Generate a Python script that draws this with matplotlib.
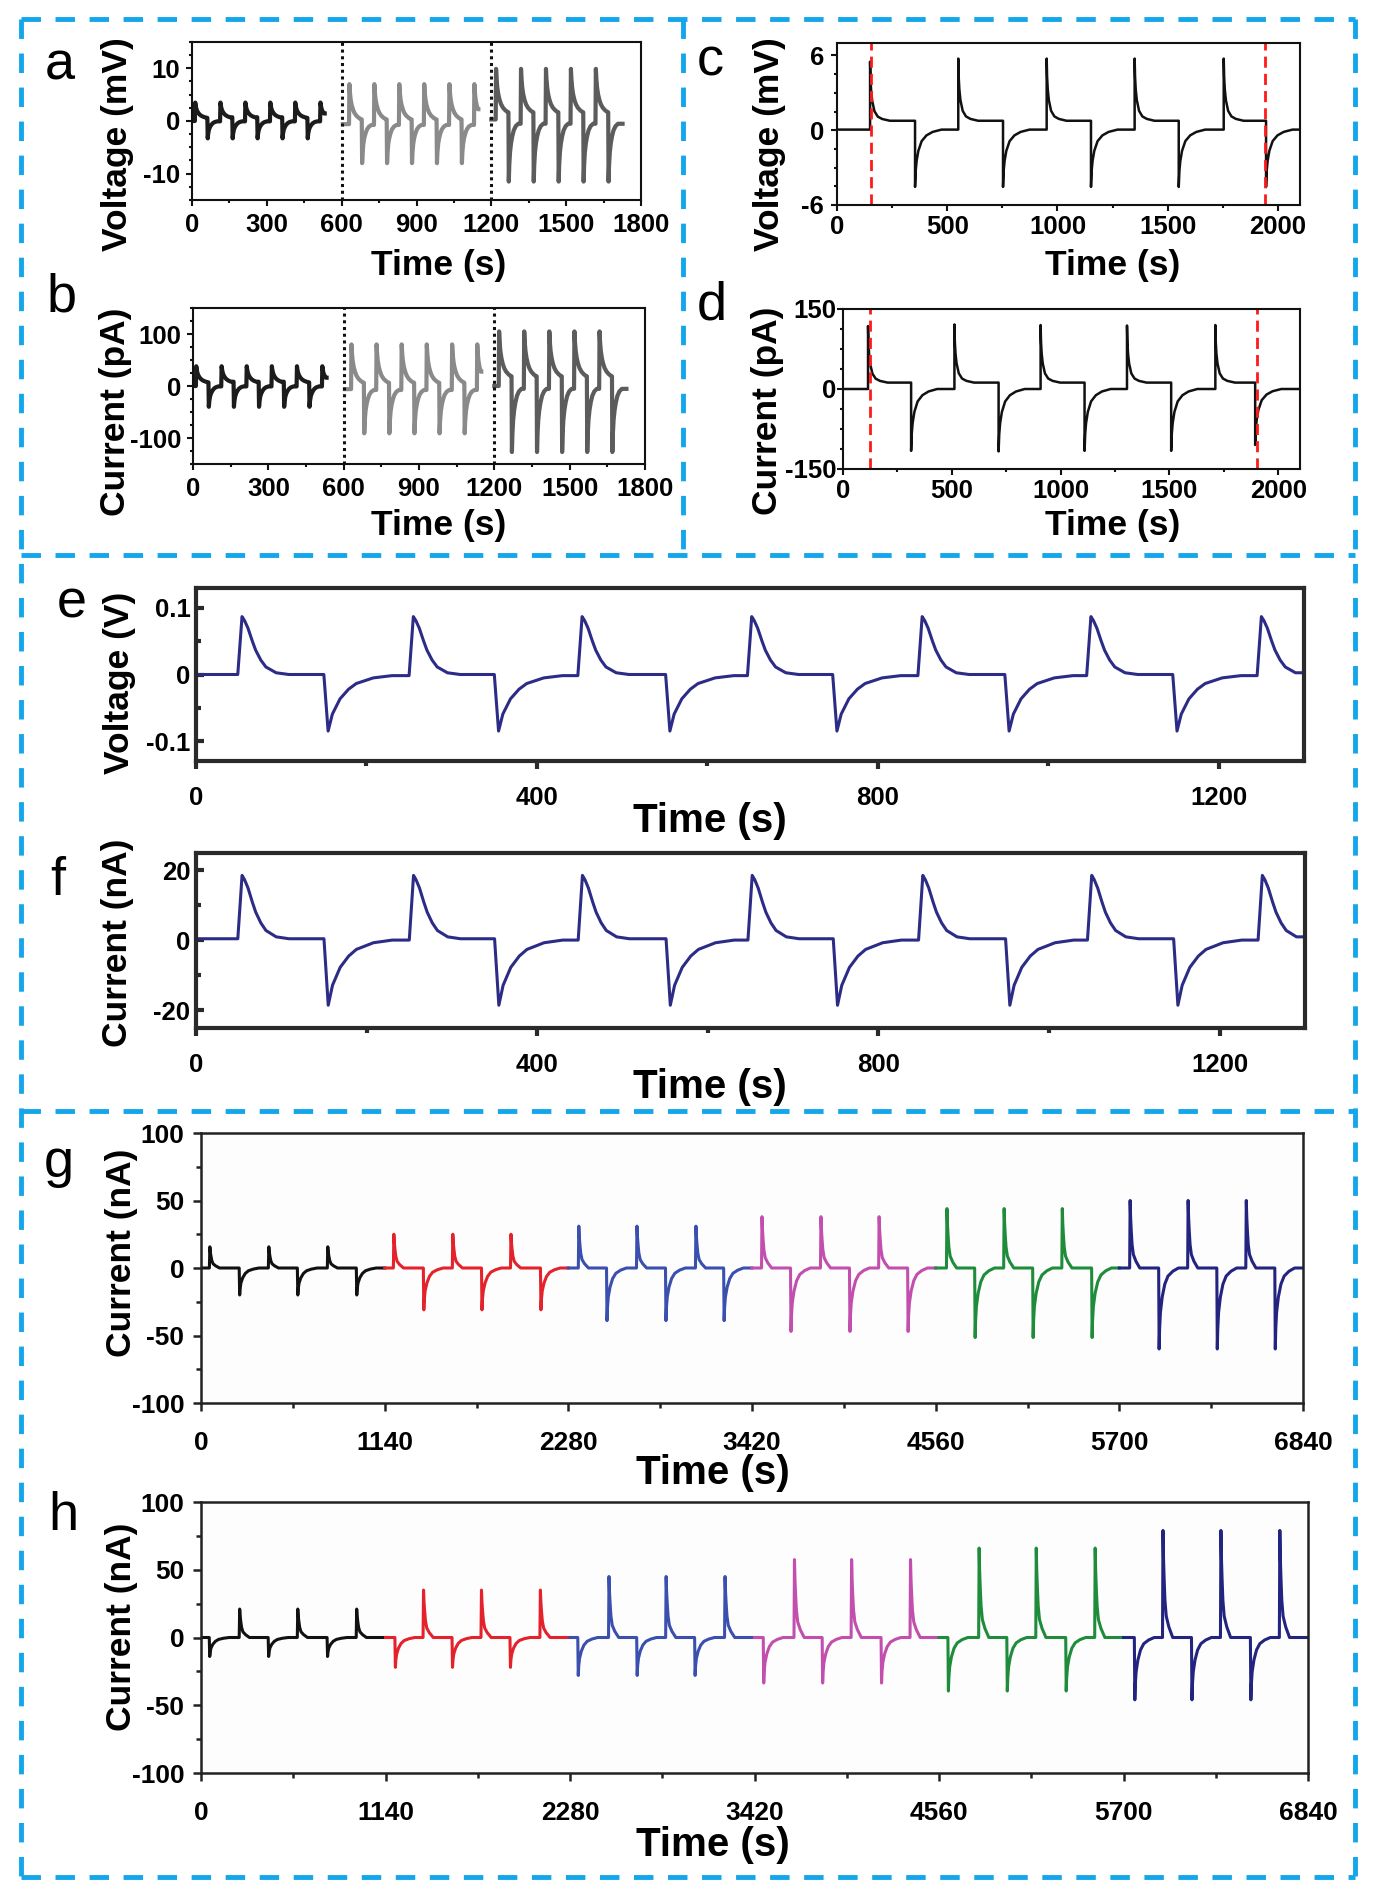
import numpy as np
import matplotlib
matplotlib.use('Agg')
import matplotlib.pyplot as plt
from matplotlib.ticker import MultipleLocator, FuncFormatter

plt.rcParams['font.family'] = ['Liberation Sans', 'DejaVu Sans']
plt.rcParams['font.weight'] = 'bold'
plt.rcParams['axes.unicode_minus'] = False

W, H = 1380, 1894

# ---------------- data ----------------
# a / b : three runs, each a train of +/- steps (times in s)
AB_SEG = [(0, 532), (605, 1148), (1200, 1726)]
AB_POS_T = [[13, 114, 214, 314, 414, 515],
            [631, 731, 831, 931, 1032, 1132],
            [1219, 1319, 1419, 1519, 1619]]
AB_NEG_T = [[63, 163, 263, 363, 464],
            [682, 782, 882, 982, 1082],
            [1270, 1370, 1470, 1570, 1670]]
AB_COLORS = ['#1c1c1c', '#8a8a8a', '#5c5c5c']

A_POS_PEAK = [3.5, 7.0, 9.9]
A_NEG_PEAK = [-3.3, -8.0, -11.5]
A_POS_LVL = [0.5, 0.1, 1.4]
A_NEG_LVL = [0.0, -0.6, -0.3]
A_START = [0.0, -0.6, 0.3]

B_POS_PEAK = [38, 80, 105]
B_NEG_PEAK = [-40, -91, -127]
B_POS_LVL = [6, 4, 16]
B_NEG_LVL = [0, -6, -3]
B_START = [0, -6, 0]

# c / d
C_POS_T = [150, 550, 951, 1350, 1754]
C_NEG_T = [354, 753, 1152, 1550, 1946]
C_POS_PEAK = [5.5, 5.75, 5.75, 5.75, 5.75]
C_NEG_PEAK = [-4.55, -4.55, -4.55, -4.55, -4.55]
C_POS_LVL, C_NEG_LVL = 0.76, 0.05
C_RED = [153, 1942]

D_POS_T = [115, 512, 908, 1305, 1711]
D_NEG_T = [313, 715, 1110, 1508, 1894]
D_POS_PEAK = [118, 121, 120, 119, 120]
D_NEG_PEAK = [-116, -117, -116, -116, -105]
D_POS_LVL, D_NEG_LVL = 12, 0
D_RED = [122, 1902]

# e / f
EF_POS_T = [54, 255, 453, 652, 852, 1050, 1250]
EF_NEG_T = [155, 355, 556, 752, 954, 1151]
E_PEAK = (0.087, -0.085)
F_PEAK = (18.6, -18.5)
F_BASE = 0.5
EF_COLOR = '#2c2c86'

# g / h : six runs of 1140 s each
GH_COLORS = ['#111111', '#e4222b', '#3a4fae', '#c24fae', '#1f8c3b', '#232480']
GH_SEG = [(0, 1140), (1140, 2280), (2280, 3420), (3420, 4560), (4560, 5700), (5700, 6840)]
G_POS_T = [[55, 421, 787], [1197, 1563, 1924], [2345, 2706, 3072],
           [3482, 3848, 4209], [4630, 4985, 5346], [5767, 6127, 6488]]
G_NEG_T = [[240, 601, 967], [1383, 1744, 2110], [2520, 2886, 3247],
           [3662, 4028, 4389], [4805, 5165, 5531], [5947, 6308, 6668]]
G_POS_PEAK = [15.7, 25, 31, 38, 44, 50]
G_NEG_PEAK = [-20, -31, -39, -47, -51.5, -60]

H_NEG_T = [[54, 418, 782], [1201, 1554, 1912], [2331, 2695, 3053],
           [3477, 3841, 4205], [4618, 4982, 5346], [5770, 6123, 6487]]
H_POS_T = [[239, 598, 962], [1375, 1733, 2097], [2521, 2874, 3238],
           [3667, 4020, 4384], [4808, 5161, 5525], [5944, 6302, 6666]]
H_POS_PEAK = [21, 35, 45, 57.5, 66, 79]
H_NEG_PEAK = [-14, -22, -28, -33.6, -39.5, -46]

# decay shapes: seconds after the step, fraction of step left
AB_SHAPE = {'p': ([0, 2, 5, 9, 14, 20, 28, 38, 48], [1, .78, .58, .43, .31, .21, .13, .07, .03]),
            'n': ([0, 2, 5, 9, 14, 20, 28, 38], [1, .72, .5, .35, .23, .13, .06, .02])}
CD_SHAPE = {'p': ([0, 2, 5, 10, 20, 35, 55, 90], [1, .7, .5, .33, .16, .07, .03, 0]),
            'n': ([0, 3, 7, 15, 30, 52, 80, 120], [1, .72, .55, .37, .2, .1, .04, 0])}
EF_SHAPE = {'p': ([0, 3, 7, 12, 16, 22, 28, 40, 55], [1, .93, .8, .58, .42, .25, .13, .03, 0]),
            'n': ([0, 5, 14, 24, 33, 53, 75, 100], [1, .7, .43, .26, .16, .06, .02, 0])}
GH_SHAPE = {'p': ([0, 3, 7, 12, 20, 36, 60], [1, .75, .55, .35, .2, .1, 0]),
            'n': ([0, 3, 8, 19, 35, 55, 85, 120], [1, .75, .55, .36, .2, .1, .04, 0])}


def events(pos_t, neg_t, pos_peak, neg_peak, pos_lvl, neg_lvl):
    pp = np.broadcast_to(pos_peak, (len(pos_t),))
    nn = np.broadcast_to(neg_peak, (len(neg_t),))
    ev = [(t, p, pos_lvl, 'p') for t, p in zip(pos_t, pp)]
    ev += [(t, p, neg_lvl, 'n') for t, p in zip(neg_t, nn)]
    return sorted(ev)


def trace(t0, t1, y0, ev, shape, rise=0.0):
    xs, ys = [t0], [y0]
    for i, (t, peak, lvl, kind) in enumerate(ev):
        stop = ev[i + 1][0] - rise if i + 1 < len(ev) else t1
        xs.append(t - rise)
        ys.append(ys[-1])
        for dt, fr in zip(*shape[kind]):
            if t + dt > stop:
                break
            xs.append(t + dt)
            ys.append(lvl + (peak - lvl) * fr)
    xs.append(t1)
    ys.append(ys[-1])
    return xs, ys


fmt = FuncFormatter(lambda v, p: f'{(0 if abs(v) < 1e-9 else round(v, 6)):g}')


def px_axes(l, t, r, b):
    return fig.add_axes([l / W, 1 - b / H, (r - l) / W, (b - t) / H])


def style(ax, xlim, ylim, xmaj, xmin, ymaj, ymin, ydir='out', frame=1.5,
          tsize=18, xpad=4, ypad=4, color='#111111', tlen=4.5):
    ax.set_xlim(*xlim)
    ax.set_ylim(*ylim)
    ax.xaxis.set_major_locator(MultipleLocator(xmaj))
    ax.xaxis.set_minor_locator(MultipleLocator(xmin))
    ax.yaxis.set_major_locator(MultipleLocator(ymaj))
    ax.yaxis.set_minor_locator(MultipleLocator(ymin))
    ax.xaxis.set_major_formatter(fmt)
    ax.yaxis.set_major_formatter(fmt)
    for s in ax.spines.values():
        s.set_linewidth(frame)
        s.set_color(color)
    ax.tick_params(which='both', top=False, right=False, width=frame, color=color)
    ax.tick_params(axis='x', which='both', direction='out', pad=xpad, labelsize=tsize)
    ax.tick_params(axis='y', which='both', direction=ydir, pad=ypad, labelsize=tsize)
    ax.tick_params(which='major', length=tlen)
    ax.tick_params(which='minor', length=tlen * 0.55)


def ftext(x, y, s, size, rot=0, weight='bold', ha='center', va='center'):
    fig.text(x / W, 1 - y / H, s, fontsize=size, rotation=rot, fontweight=weight,
             ha=ha, va=va)


fig = plt.figure(figsize=(W / 100, H / 100), dpi=100)

# ---------------- a, b ----------------
for box, peaks_p, peaks_n, lp, ln, st, ylim, ymaj, ymin in [
        ((192, 42, 641, 200), A_POS_PEAK, A_NEG_PEAK, A_POS_LVL, A_NEG_LVL, A_START, (-15, 15), 10, 2.5),
        ((193, 308, 645, 464), B_POS_PEAK, B_NEG_PEAK, B_POS_LVL, B_NEG_LVL, B_START, (-150, 150), 100, 25)]:
    ax = px_axes(*box)
    for k, (t0, t1) in enumerate(AB_SEG):
        ev = events(AB_POS_T[k], AB_NEG_T[k], peaks_p[k], peaks_n[k], lp[k], ln[k])
        xs, ys = trace(t0, t1, st[k], ev, AB_SHAPE, rise=1.5)
        ax.plot(xs, ys, color=AB_COLORS[k], lw=3.0, solid_joinstyle='round')
    for xv in (600, 1200):
        ax.axvline(xv, color='#111111', lw=2.2, ls=(0, (1, 1.2)))
    style(ax, (0, 1800), ylim, 300, 150, ymaj, ymin, tsize=18.5, xpad=5, ypad=4)

ftext(118, 144, 'Voltage (mV)', 25.5, rot=90)
ftext(439, 266, 'Time (s)', 25.5)
ftext(116, 412, 'Current (pA)', 25.5, rot=90)
ftext(439, 525, 'Time (s)', 25.5)

# ---------------- c, d ----------------
for box, pt, nt, pp, npk, lp, ln, red, ylim, ymaj, ymin, ypad in [
        ((837, 43, 1300, 205), C_POS_T, C_NEG_T, C_POS_PEAK, C_NEG_PEAK, C_POS_LVL, C_NEG_LVL, C_RED, (-6, 7), 6, 1.5, 5),
        ((843, 309, 1300, 469), D_POS_T, D_NEG_T, D_POS_PEAK, D_NEG_PEAK, D_POS_LVL, D_NEG_LVL, D_RED, (-150, 150), 150, 37.5, 0.5)]:
    ax = px_axes(*box)
    ev = events(pt, nt, pp, npk, lp, ln)
    xs, ys = trace(0, 2100, 0.05 if ymaj == 6 else 0, ev, CD_SHAPE)
    ax.plot(xs, ys, color='#111111', lw=1.8)
    for xv in red:
        ax.axvline(xv, color='#ff1a1a', lw=2.0, ls=(0, (4, 2.2)))
    style(ax, (0, 2100), ylim, 500, 250, ymaj, ymin, tsize=18.5, xpad=3, ypad=ypad)

ftext(769, 144, 'Voltage (mV)', 25.5, rot=90)
ftext(1113, 265, 'Time (s)', 25.5)
ftext(768, 411, 'Current (pA)', 25.5, rot=90)
ftext(1113, 525, 'Time (s)', 25.5)

# ---------------- e, f ----------------
for box, peak, base, ylim, ymaj, ymin in [
        ((196, 588, 1304, 761), E_PEAK, 0.0, (-0.13, 0.13), 0.1, 0.05),
        ((196, 853, 1305, 1028), F_PEAK, F_BASE, (-25, 25), 20, 10)]:
    ax = px_axes(*box)
    ev = events(EF_POS_T, EF_NEG_T, peak[0], peak[1], base, base)
    xs, ys = trace(0, 1300, base, ev, EF_SHAPE, rise=5)
    ax.plot(xs, ys, color=EF_COLOR, lw=2.2, solid_joinstyle='round')
    style(ax, (0, 1300), ylim, 400, 200, ymaj, ymin, ydir='in', frame=3.0,
          tsize=18.5, xpad=12, ypad=4, color='#2a2a2a', tlen=6)

ftext(119, 683, 'Voltage (V)', 25.5, rot=90)
ftext(710, 821, 'Time (s)', 29)
ftext(117, 943, 'Current (nA)', 25.5, rot=90)
ftext(710, 1087, 'Time (s)', 29)

# ---------------- g, h ----------------
for box, pos_t, neg_t, pos_pk, neg_pk in [
        ((201, 1133, 1303, 1403), G_POS_T, G_NEG_T, G_POS_PEAK, G_NEG_PEAK),
        ((201, 1502, 1308, 1773), H_POS_T, H_NEG_T, H_POS_PEAK, H_NEG_PEAK)]:
    ax = px_axes(*box)
    ax.set_facecolor('#fdfdfd')
    for k, (t0, t1) in enumerate(GH_SEG):
        ev = events(pos_t[k], neg_t[k], pos_pk[k], neg_pk[k], 0, 0)
        xs, ys = trace(t0, t1, 0, ev, GH_SHAPE, rise=3)
        ax.plot(xs, ys, color=GH_COLORS[k], lw=2.2, solid_joinstyle='round')
    style(ax, (0, 6840), (-100, 100), 1140, 570, 50, 25, frame=1.8,
          tsize=19, xpad=14, ypad=6, color='#222222', tlen=6)

ftext(121, 1253, 'Current (nA)', 25.5, rot=90)
ftext(713, 1473, 'Time (s)', 29)
ftext(121, 1627, 'Current (nA)', 25.5, rot=90)
ftext(713, 1845, 'Time (s)', 29)

# ---------------- panel letters ----------------
for s, x, y in [('a', 45, 80), ('b', 47, 312), ('c', 697, 76), ('d', 697, 320),
                ('e', 57, 617), ('f', 50, 895), ('g', 44, 1177), ('h', 48, 1530)]:
    ftext(x, y, s, 39, weight='normal', ha='left', va='baseline')

# ---------------- blue dashed frames ----------------
ov = fig.add_axes([0, 0, 1, 1])
ov.set_xlim(0, W)
ov.set_ylim(H, 0)
ov.axis('off')
ov.set_zorder(-1)
BLUE = '#13a6ea'
frame_lines = [((21, 1355), (19, 19)), ((21, 21), (19, 1877)), ((1355, 1355), (19, 1877)),
               ((683, 683), (19, 555)), ((21, 1355), (555, 555)),
               ((21, 1355), (1111, 1111)), ((21, 1355), (1877, 1877))]
for xx, yy in frame_lines:
    ov.plot(xx, yy, color=BLUE, lw=3.5, ls=(0, (4, 3)), solid_capstyle='butt')

fig.savefig('out.png', dpi=100)
